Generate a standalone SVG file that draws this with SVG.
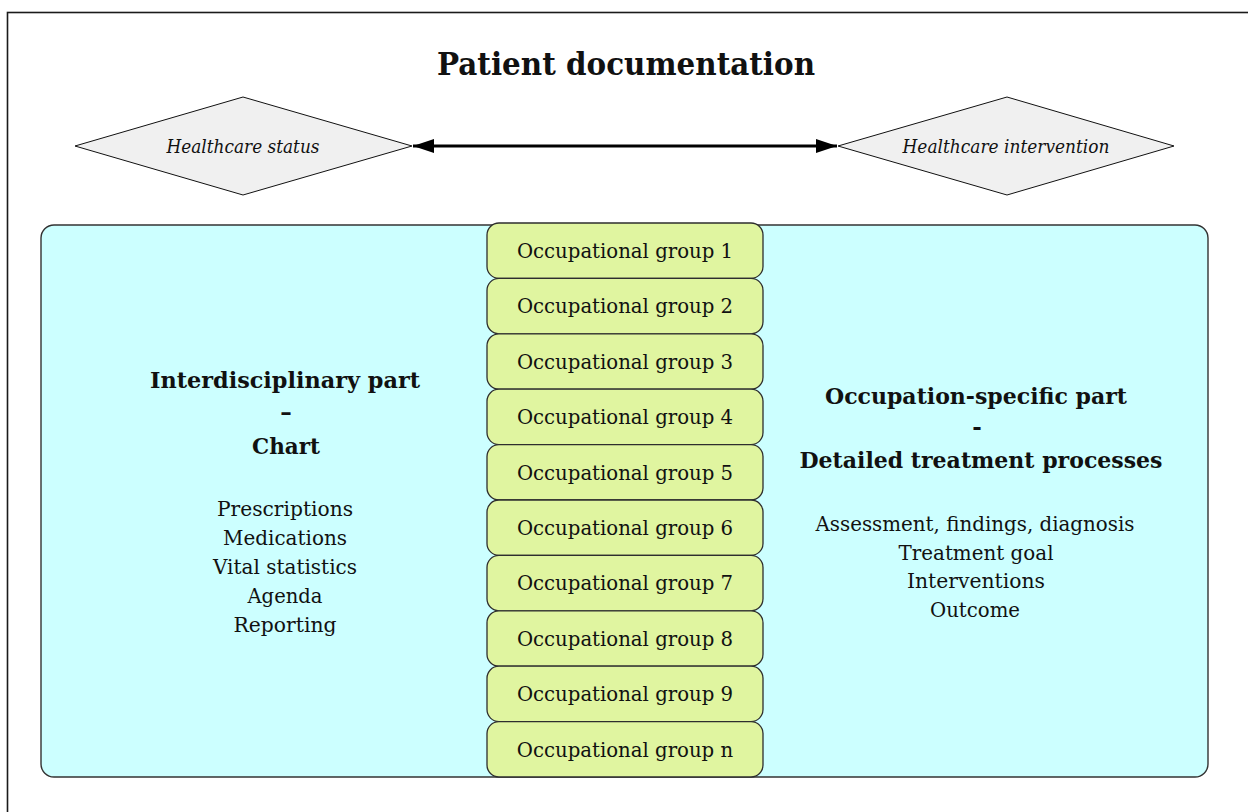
<svg xmlns="http://www.w3.org/2000/svg" width="1248" height="812" viewBox="0 0 1248 812">
  <style>
    .frame { fill: #ffffff; stroke: #1a1a1a; stroke-width: 1.6; }
    .panel { fill: #ccffff; stroke: #333333; stroke-width: 1.4; }
    .group { fill: #e0f5a0; stroke: #2e2e2e; stroke-width: 1.3; }
    .diamond { fill: #f0f0f0; stroke: #111111; stroke-width: 1; }
    .link { stroke: #000000; stroke-width: 3; fill: none; }
    text { font-family: "DejaVu Serif", "Liberation Serif", serif; fill: #111111; text-anchor: middle; }
    .title { font-size: 32px; font-weight: bold; }
    .head { font-size: 23px; font-weight: bold; }
    .body { font-size: 19.7px; }
    .status { font-size: 19px; font-style: italic; }
  </style>
  <defs>
    <marker id="arrowhead" markerUnits="userSpaceOnUse" markerWidth="22" markerHeight="16" refX="21" refY="7" orient="auto-start-reverse">
      <path d="M0,0 L21,7 L0,14 z" fill="#000000"/>
    </marker>
  </defs>

  <rect class="frame" x="7.5" y="12.5" width="1300" height="900"/>

  <text class="title" x="626" y="75" textLength="378" lengthAdjust="spacingAndGlyphs">Patient documentation</text>

  <!-- status diamonds -->
  <g id="node-status">
    <polygon class="diamond" points="75,146 243,97 412,146 243,195"/>
    <text class="status" x="243" y="153" textLength="153" lengthAdjust="spacingAndGlyphs">Healthcare status</text>
  </g>
  <g id="node-intervention">
    <polygon class="diamond" points="838,146 1007,97 1174,146 1007,195"/>
    <text class="status" x="1006" y="153" textLength="207" lengthAdjust="spacingAndGlyphs">Healthcare intervention</text>
  </g>

  <g id="connectors">
    <line class="link" x1="413" y1="146" x2="837" y2="146" marker-start="url(#arrowhead)" marker-end="url(#arrowhead)"/>
  </g>

  <!-- documentation panel -->
  <g id="node-panel">
    <rect class="panel" x="41" y="225" width="1167" height="552" rx="13"/>
  </g>

  <g id="node-interdisciplinary">
    <text class="head" x="285" y="388" textLength="270" lengthAdjust="spacingAndGlyphs">Interdisciplinary part</text>
    <text class="head" x="286" y="420">–</text>
    <text class="head" x="286" y="454" textLength="68" lengthAdjust="spacingAndGlyphs">Chart</text>
    <text class="body" x="285" y="516" textLength="136" lengthAdjust="spacingAndGlyphs">Prescriptions</text>
    <text class="body" x="285" y="545" textLength="124" lengthAdjust="spacingAndGlyphs">Medications</text>
    <text class="body" x="285" y="574" textLength="144" lengthAdjust="spacingAndGlyphs">Vital statistics</text>
    <text class="body" x="285" y="603" textLength="75" lengthAdjust="spacingAndGlyphs">Agenda</text>
    <text class="body" x="285" y="632" textLength="103" lengthAdjust="spacingAndGlyphs">Reporting</text>
  </g>

  <g id="node-specific">
    <text class="head" x="976" y="404" textLength="302" lengthAdjust="spacingAndGlyphs">Occupation-specific part</text>
    <text class="head" x="977" y="435">-</text>
    <text class="head" x="981" y="468" textLength="363" lengthAdjust="spacingAndGlyphs">Detailed treatment processes</text>
    <text class="body" x="975" y="531" textLength="319" lengthAdjust="spacingAndGlyphs">Assessment, findings, diagnosis</text>
    <text class="body" x="976" y="560" textLength="155" lengthAdjust="spacingAndGlyphs">Treatment goal</text>
    <text class="body" x="976" y="588" textLength="138" lengthAdjust="spacingAndGlyphs">Interventions</text>
    <text class="body" x="975" y="617" textLength="90" lengthAdjust="spacingAndGlyphs">Outcome</text>
  </g>

  <!-- occupational groups stacked in the middle -->
  <g id="group-1"><rect class="group" x="487" y="223" width="276" height="55.4" rx="12"/><text class="body" x="625" y="258">Occupational group 1</text></g>
  <g id="group-2"><rect class="group" x="487" y="278.4" width="276" height="55.4" rx="12"/><text class="body" x="625" y="313.4">Occupational group 2</text></g>
  <g id="group-3"><rect class="group" x="487" y="333.8" width="276" height="55.4" rx="12"/><text class="body" x="625" y="368.8">Occupational group 3</text></g>
  <g id="group-4"><rect class="group" x="487" y="389.2" width="276" height="55.4" rx="12"/><text class="body" x="625" y="424.2">Occupational group 4</text></g>
  <g id="group-5"><rect class="group" x="487" y="444.6" width="276" height="55.4" rx="12"/><text class="body" x="625" y="479.6">Occupational group 5</text></g>
  <g id="group-6"><rect class="group" x="487" y="500" width="276" height="55.4" rx="12"/><text class="body" x="625" y="535">Occupational group 6</text></g>
  <g id="group-7"><rect class="group" x="487" y="555.4" width="276" height="55.4" rx="12"/><text class="body" x="625" y="590.4">Occupational group 7</text></g>
  <g id="group-8"><rect class="group" x="487" y="610.8" width="276" height="55.4" rx="12"/><text class="body" x="625" y="645.8">Occupational group 8</text></g>
  <g id="group-9"><rect class="group" x="487" y="666.2" width="276" height="55.4" rx="12"/><text class="body" x="625" y="701.2">Occupational group 9</text></g>
  <g id="group-n"><rect class="group" x="487" y="721.6" width="276" height="55.4" rx="12"/><text class="body" x="625" y="756.6">Occupational group n</text></g>
</svg>
